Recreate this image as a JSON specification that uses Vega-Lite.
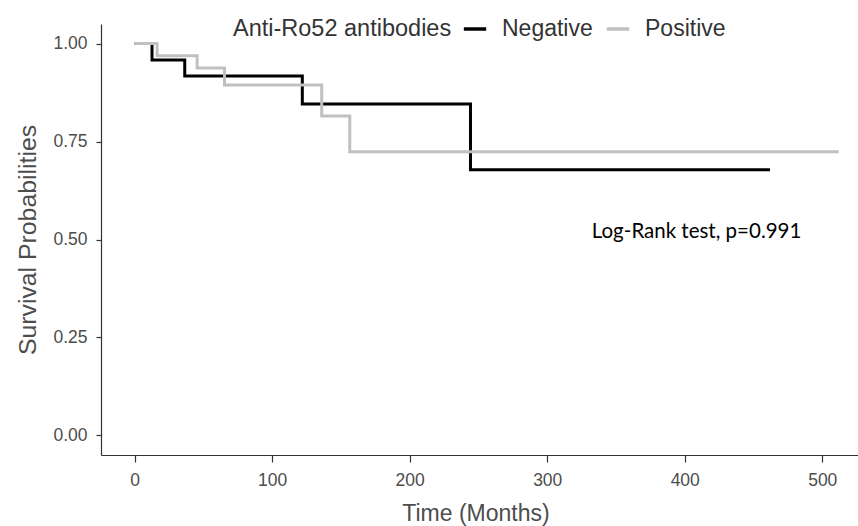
{
  "$schema": "https://vega.github.io/schema/vega-lite/v6.json",
  "width": 757,
  "height": 431,
  "autosize": {"type": "none"},
  "padding": {"left": 101, "top": 24, "right": 0, "bottom": 71},
  "background": "white",
  "config": {"view": {"stroke": null}, "font": "Liberation Sans"},
  "datasets": {
    "km": [
      {"group": "Negative", "time": 0, "surv": 1.0},
      {"group": "Negative", "time": 12.6, "surv": 0.958},
      {"group": "Negative", "time": 36.4, "surv": 0.917},
      {"group": "Negative", "time": 121.9, "surv": 0.846},
      {"group": "Negative", "time": 244.2, "surv": 0.678},
      {"group": "Negative", "time": 462, "surv": 0.678},
      {"group": "Positive", "time": 0, "surv": 1.0},
      {"group": "Positive", "time": 16.3, "surv": 0.969},
      {"group": "Positive", "time": 45.4, "surv": 0.9375},
      {"group": "Positive", "time": 65.3, "surv": 0.894},
      {"group": "Positive", "time": 136.0, "surv": 0.815},
      {"group": "Positive", "time": 156.4, "surv": 0.724},
      {"group": "Positive", "time": 512, "surv": 0.724}
    ],
    "note": [{"t": 408.6, "p": 0.52, "label": "Log-Rank test, p=0.991"}]
  },
  "layer": [
    {
      "data": {"name": "km"},
      "mark": {"type": "line", "interpolate": "step-after", "strokeWidth": 3, "clip": true},
      "encoding": {
        "x": {
          "field": "time", "type": "quantitative",
          "scale": {"domain": [-24.5, 526], "nice": false, "zero": false},
          "axis": {
            "values": [0, 100, 200, 300, 400, 500], "format": "d", "grid": false,
            "domainColor": "#333333", "domainWidth": 1.2,
            "tickColor": "#333333", "tickWidth": 1.2, "tickSize": 7,
            "labelFontSize": 17.5, "labelColor": "#4d4d4d", "labelPadding": 9,
            "title": "Time (Months)", "titleFontSize": 23, "titleFontWeight": "normal",
            "titleColor": "#4d4d4d", "titleX": 374.5, "titleY": 65,
            "titleAlign": "center", "titleBaseline": "alphabetic"
          }
        },
        "y": {
          "field": "surv", "type": "quantitative",
          "scale": {"domain": [-0.05, 1.05], "nice": false, "zero": false},
          "axis": {
            "values": [0, 0.25, 0.5, 0.75, 1], "format": ".2f", "grid": false,
            "domainColor": "#333333", "domainWidth": 1.2,
            "tickColor": "#333333", "tickWidth": 1.2, "tickSize": 5,
            "labelFontSize": 17.5, "labelColor": "#4d4d4d", "labelPadding": 9,
            "title": "Survival Probabilities", "titleFontSize": 24.8, "titleFontWeight": "normal",
            "titleColor": "#4d4d4d", "titleX": -73, "titleY": 215.5,
            "titleAlign": "center", "titleBaseline": "middle"
          }
        },
        "color": {
          "field": "group", "type": "nominal",
          "scale": {"domain": ["Negative", "Positive"], "range": ["#000000", "#c0c0c0"]},
          "legend": {
            "orient": "none", "legendX": 132, "legendY": -8,
            "direction": "horizontal", "titleOrient": "left",
            "title": "Anti-Ro52 antibodies", "titleLimit": 500,
            "titleFontSize": 23.5, "titleFontWeight": "normal", "titleColor": "#333333",
            "labelFontSize": 23, "labelColor": "#333333", "labelLimit": 300,
            "symbolType": "stroke", "symbolSize": 500, "symbolStrokeWidth": 3.5,
            "labelOffset": 14, "columnPadding": 6, "titlePadding": 10
          }
        }
      }
    },
    {
      "data": {"name": "note"},
      "mark": {"type": "text", "font": "Lato", "fontSize": 20.5, "color": "black", "align": "center", "baseline": "middle"},
      "encoding": {
        "x": {"field": "t", "type": "quantitative"},
        "y": {"field": "p", "type": "quantitative"},
        "text": {"field": "label"}
      }
    }
  ]
}
